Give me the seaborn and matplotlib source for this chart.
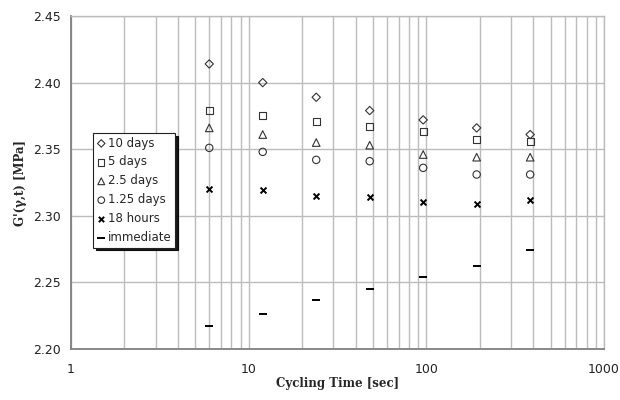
import matplotlib
matplotlib.use("Agg")
import matplotlib.pyplot as plt
import seaborn as sns
import pandas as pd
import numpy as np
from matplotlib.ticker import LogLocator, FixedLocator, NullFormatter

cycling_time = [6, 12, 24, 48, 96, 192, 384]
series_names = ["10 days", "5 days", "2.5 days", "1.25 days", "18 hours", "immediate"]
g_10days = [2.414, 2.400, 2.389, 2.379, 2.372, 2.366, 2.361]
g_5days = [2.379, 2.375, 2.371, 2.367, 2.363, 2.357, 2.356]
g_2_5days = [2.366, 2.361, 2.355, 2.353, 2.346, 2.344, 2.344]
g_1_25days = [2.351, 2.348, 2.342, 2.341, 2.336, 2.331, 2.331]
g_18hours = [2.320, 2.319, 2.315, 2.314, 2.310, 2.309, 2.312]
g_immediate = [2.217, 2.226, 2.237, 2.245, 2.254, 2.262, 2.274]
all_values = [g_10days, g_5days, g_2_5days, g_1_25days, g_18hours, g_immediate]
y_ticks = [2.20, 2.25, 2.30, 2.35, 2.40, 2.45]
x_ticks = [1, 10, 100, 1000]

rows = []
for name, vals in zip(series_names, all_values):
    for t, v in zip(cycling_time, vals):
        rows.append({"time": t, "G": v, "series": name})
df = pd.DataFrame(rows)

sns.set_style("white")
plt.rcParams['font.family'] = ['DejaVu Sans']

fig = plt.figure(figsize=(6.2, 4.0), dpi=100)
ax = fig.add_axes([71/620, 1-349/400, (604-71)/620, (349-16)/400])

markers = {"10 days": "D", "5 days": "s", "2.5 days": "^", "1.25 days": "o",
           "18 hours": "x", "immediate": "_"}
sizes = {"10 days": 18, "5 days": 26, "2.5 days": 30, "1.25 days": 28,
         "18 hours": 18, "immediate": 40}

for name in series_names:
    sub = df[df["series"] == name]
    m = markers[name]
    if m in ("x", "_"):
        sns.scatterplot(data=sub, x="time", y="G", marker=m, s=sizes[name],
                        color="black", linewidth=1.4, ax=ax, label=name)
    else:
        sns.scatterplot(data=sub, x="time", y="G", marker=m, s=sizes[name],
                        facecolor="none", edgecolor="#333333", linewidth=0.8,
                        ax=ax, label=name)

ax.set_xscale("log")
ax.set_xlim(1, 1000)
ax.set_ylim(2.20, 2.45)
ax.xaxis.set_major_locator(FixedLocator(x_ticks))
ax.xaxis.set_minor_locator(LogLocator(base=10, subs=np.arange(2, 10)))
ax.xaxis.set_minor_formatter(NullFormatter())
ax.set_xticklabels([str(v) for v in x_ticks])
ax.set_yticks(y_ticks)
ax.set_yticklabels([f"{v:.2f}" for v in y_ticks])

ax.grid(True, which="major", color="#bcbcbc", linewidth=1.0)
ax.grid(True, which="minor", axis="x", color="#bcbcbc", linewidth=1.0)
ax.set_axisbelow(True)

for side in ["top", "right"]:
    ax.spines[side].set_color("#bcbcbc")
    ax.spines[side].set_linewidth(1.0)
for side in ["left", "bottom"]:
    ax.spines[side].set_color("#808080")
    ax.spines[side].set_linewidth(1.3)

ax.tick_params(axis="both", which="major", direction="out", length=4,
               color="#808080", labelsize=9, labelcolor="#222222")
ax.tick_params(axis="x", which="minor", direction="out", length=2, color="#a0a0a0")
ax.tick_params(axis="x", which="major", pad=6)

ax.set_xlabel("Cycling Time [sec]", family="DejaVu Serif", fontweight="bold",
              fontsize=8.5, labelpad=1)
ax.set_ylabel("G'(γ,t) [MPa]", family="DejaVu Serif", fontweight="bold",
              fontsize=8.5, labelpad=4)

leg = ax.legend(loc="upper left", bbox_to_anchor=((93-71)/533, (349-133)/333),
                frameon=True, fancybox=False,
                shadow={"color": "black", "alpha": 0.9},
                fontsize=8.5, handletextpad=0.15, handlelength=0.8,
                borderpad=0.3, labelspacing=0.5, borderaxespad=0.0,
                markerscale=0.9)
leg.get_frame().set_edgecolor("#222222")
leg.get_frame().set_linewidth(0.8)

fig.savefig("out.png", dpi=100)
